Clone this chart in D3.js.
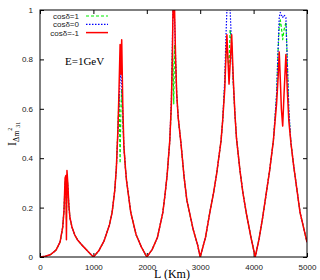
<!DOCTYPE html>
<html>
<head>
<meta charset="utf-8">
<script src="https://cdn.jsdelivr.net/npm/d3@7"></script>
<style>
  body { margin: 0; background: #fff; }
  .tick text { font-family: "Liberation Sans", Arial, sans-serif; font-size: 8px; fill: #222; }
  .serif { font-family: "Liberation Serif", "Times New Roman", serif; }
</style>
</head>
<body>
<div id="chart"></div>
<script>
// baseline distances (km) shared by the three curves
const distanceKm = [
  0, 100, 200, 300, 375, 425, 450, 470, 485, 495, 505, 520, 540, 560, 600, 650, 700, 800, 900, 1000,
  1100, 1200, 1300, 1350, 1400, 1430, 1460, 1480, 1500, 1515, 1530, 1550, 1570, 1600, 1620, 1700, 1800, 1900, 2000,
  2100, 2200, 2300, 2340, 2380, 2430, 2460, 2480, 2490, 2505, 2520, 2540, 2560, 2590, 2640, 2700, 2750, 2870, 2950, 3000,
  3100, 3180, 3250, 3310, 3390, 3420, 3460, 3480, 3500, 3520, 3540, 3560, 3590, 3620, 3650, 3680, 3700, 3745, 3800, 3870, 3950, 4030,
  4100, 4170, 4245, 4300, 4370, 4430, 4460, 4480, 4500, 4520, 4545, 4570, 4605, 4630, 4660, 4700, 4750, 4870, 5000
];

// cos(delta) = 1
const cosPlusOne = [
  0, 0.003, 0.01, 0.028, 0.06, 0.12, 0.19, 0.30, 0.32, 0.15, 0.33, 0.29, 0.21, 0.16, 0.12, 0.09, 0.07, 0.045, 0.022, 0,
  0.025, 0.065, 0.13, 0.18, 0.27, 0.36, 0.52, 0.66, 0.38, 0.60, 0.68, 0.55, 0.45, 0.36, 0.31, 0.18, 0.09, 0.04, 0,
  0.03, 0.08, 0.18, 0.25, 0.33, 0.47, 0.60, 0.84, 0.80, 0.62, 0.86, 0.78, 0.66, 0.56, 0.46, 0.32, 0.23, 0.11, 0.05, 0,
  0.08, 0.18, 0.26, 0.34, 0.47, 0.55, 0.70, 0.82, 0.86, 0.80, 0.77, 0.92, 0.86, 0.70, 0.58, 0.48, 0.44, 0.35, 0.26, 0.17, 0.08, 0,
  0.07, 0.16, 0.27, 0.35, 0.47, 0.65, 0.84, 0.93, 0.96, 0.93, 0.88, 0.92, 0.95, 0.80, 0.58, 0.46, 0.37, 0.18, 0.06
];

// cos(delta) = 0
const cosZero = [
  0, 0.003, 0.01, 0.028, 0.06, 0.12, 0.19, 0.30, 0.31, 0.20, 0.32, 0.29, 0.21, 0.16, 0.12, 0.09, 0.07, 0.045, 0.022, 0,
  0.025, 0.065, 0.13, 0.18, 0.27, 0.36, 0.52, 0.62, 0.72, 0.74, 0.70, 0.58, 0.45, 0.36, 0.31, 0.18, 0.09, 0.04, 0,
  0.03, 0.08, 0.18, 0.25, 0.33, 0.47, 0.64, 0.88, 1.0, 1.0, 0.96, 0.80, 0.66, 0.56, 0.46, 0.32, 0.23, 0.11, 0.05, 0,
  0.08, 0.18, 0.26, 0.34, 0.47, 0.55, 0.72, 0.88, 1.0, 1.0, 1.0, 1.0, 0.85, 0.70, 0.58, 0.48, 0.44, 0.35, 0.26, 0.17, 0.08, 0,
  0.07, 0.16, 0.27, 0.35, 0.47, 0.66, 0.85, 0.97, 0.99, 0.98, 0.97, 0.98, 0.97, 0.80, 0.60, 0.46, 0.37, 0.18, 0.06
];

// cos(delta) = -1
const cosMinusOne = [
  0, 0.003, 0.01, 0.028, 0.06, 0.12, 0.19, 0.32, 0.33, 0.07, 0.35, 0.30, 0.21, 0.16, 0.12, 0.09, 0.07, 0.045, 0.022, 0,
  0.025, 0.065, 0.13, 0.18, 0.27, 0.36, 0.52, 0.68, 0.86, 0.74, 0.88, 0.62, 0.45, 0.36, 0.31, 0.18, 0.09, 0.04, 0,
  0.03, 0.08, 0.18, 0.25, 0.33, 0.47, 0.62, 0.82, 1.0, 0.97, 1.0, 0.80, 0.66, 0.56, 0.46, 0.32, 0.23, 0.11, 0.05, 0,
  0.08, 0.18, 0.26, 0.34, 0.47, 0.55, 0.68, 0.80, 0.90, 0.80, 0.70, 0.78, 0.90, 0.72, 0.58, 0.48, 0.44, 0.35, 0.26, 0.17, 0.08, 0,
  0.07, 0.16, 0.27, 0.35, 0.47, 0.62, 0.73, 0.83, 0.72, 0.60, 0.53, 0.66, 0.82, 0.68, 0.55, 0.46, 0.37, 0.18, 0.06
];

const xTicks = [0, 1000, 2000, 3000, 4000, 5000];
const yTicks = [0, 0.2, 0.4, 0.6, 0.8, 1];
const seriesNames = ["cos\u03b4=1", "cos\u03b4=0", "cos\u03b4=-1"];

const width = 320, height = 280;
const margin = { top: 10, right: 13, bottom: 23, left: 40 };

const svg = d3.select("#chart")
  .append("svg")
  .attr("width", width)
  .attr("height", height);

const x = d3.scaleLinear().domain([0, 5000]).range([margin.left, width - margin.right]);
const y = d3.scaleLinear().domain([0, 1]).range([height - margin.bottom, margin.top]);

const fmt = d3.format("~g");

// axes (ticks point inward)
svg.append("g")
  .attr("transform", `translate(0,${y(0)})`)
  .call(d3.axisBottom(x).tickValues(xTicks).tickSize(-4).tickPadding(7).tickFormat(fmt))
  .call(g => g.select(".domain").remove());

svg.append("g")
  .attr("transform", `translate(0,${y(1)})`)
  .call(d3.axisTop(x).tickValues(xTicks).tickSize(-4).tickFormat(""))
  .call(g => g.select(".domain").remove());

svg.append("g")
  .attr("transform", `translate(${x(0)},0)`)
  .call(d3.axisLeft(y).tickValues(yTicks).tickSize(-4).tickPadding(7).tickFormat(fmt))
  .call(g => g.select(".domain").remove());

svg.append("g")
  .attr("transform", `translate(${x(5000)},0)`)
  .call(d3.axisRight(y).tickValues(yTicks).tickSize(-4).tickFormat(""))
  .call(g => g.select(".domain").remove());

svg.append("defs").append("clipPath").attr("id", "plot")
  .append("rect")
  .attr("x", x(0)).attr("y", y(1))
  .attr("width", x(5000) - x(0)).attr("height", y(0) - y(1));

const line = d3.line()
  .x((d, i) => x(distanceKm[i]))
  .y(d => y(d));

const series = [
  { name: seriesNames[0], values: cosPlusOne, color: "#00ee00", dash: "3,2", w: 1.2 },
  { name: seriesNames[1], values: cosZero, color: "#0000ff", dash: "1.5,1.5", w: 1.2 },
  { name: seriesNames[2], values: cosMinusOne, color: "#ff0000", dash: null, w: 1.5 }
];

const curves = svg.append("g").attr("clip-path", "url(#plot)");
series.forEach(s => {
  curves.append("path")
    .attr("d", line(s.values))
    .attr("fill", "none")
    .attr("stroke", s.color)
    .attr("stroke-width", s.w)
    .attr("stroke-dasharray", s.dash)
    .attr("stroke-linejoin", "round");
});

// frame
svg.append("rect")
  .attr("x", x(0)).attr("y", y(1))
  .attr("width", x(5000) - x(0)).attr("height", y(0) - y(1))
  .attr("fill", "none")
  .attr("stroke", "#000")
  .attr("stroke-width", 1);

// legend
const legend = svg.append("g");
series.forEach((s, i) => {
  const ly = 16 + i * 8.3;
  legend.append("text")
    .attr("x", 79).attr("y", ly + 3)
    .attr("text-anchor", "end")
    .style("font-family", "Liberation Sans, Arial, sans-serif")
    .style("font-size", "8px")
    .attr("fill", "#222")
    .text(s.name);
  legend.append("line")
    .attr("x1", 86).attr("x2", 108)
    .attr("y1", ly).attr("y2", ly)
    .attr("stroke", s.color)
    .attr("stroke-width", s.w)
    .attr("stroke-dasharray", s.dash);
});

svg.append("text")
  .attr("class", "serif")
  .attr("x", 65).attr("y", 65)
  .style("font-size", "11px")
  .text("E=1GeV");

// axis titles
svg.append("text")
  .attr("class", "serif")
  .attr("x", 172).attr("y", 278)
  .attr("text-anchor", "middle")
  .style("font-size", "12px")
  .text("L (Km)");

const yTitle = svg.append("text")
  .attr("class", "serif")
  .attr("transform", "translate(16,146) rotate(-90)")
  .style("font-size", "12px");
yTitle.append("tspan").text("I");
yTitle.append("tspan").attr("dy", 3).style("font-size", "8px").text("\u0394m");
yTitle.append("tspan").attr("dy", -7).style("font-size", "6px").text("2");
yTitle.append("tspan").attr("dy", 8).style("font-size", "6px").text("31");
</script>
</body>
</html>
